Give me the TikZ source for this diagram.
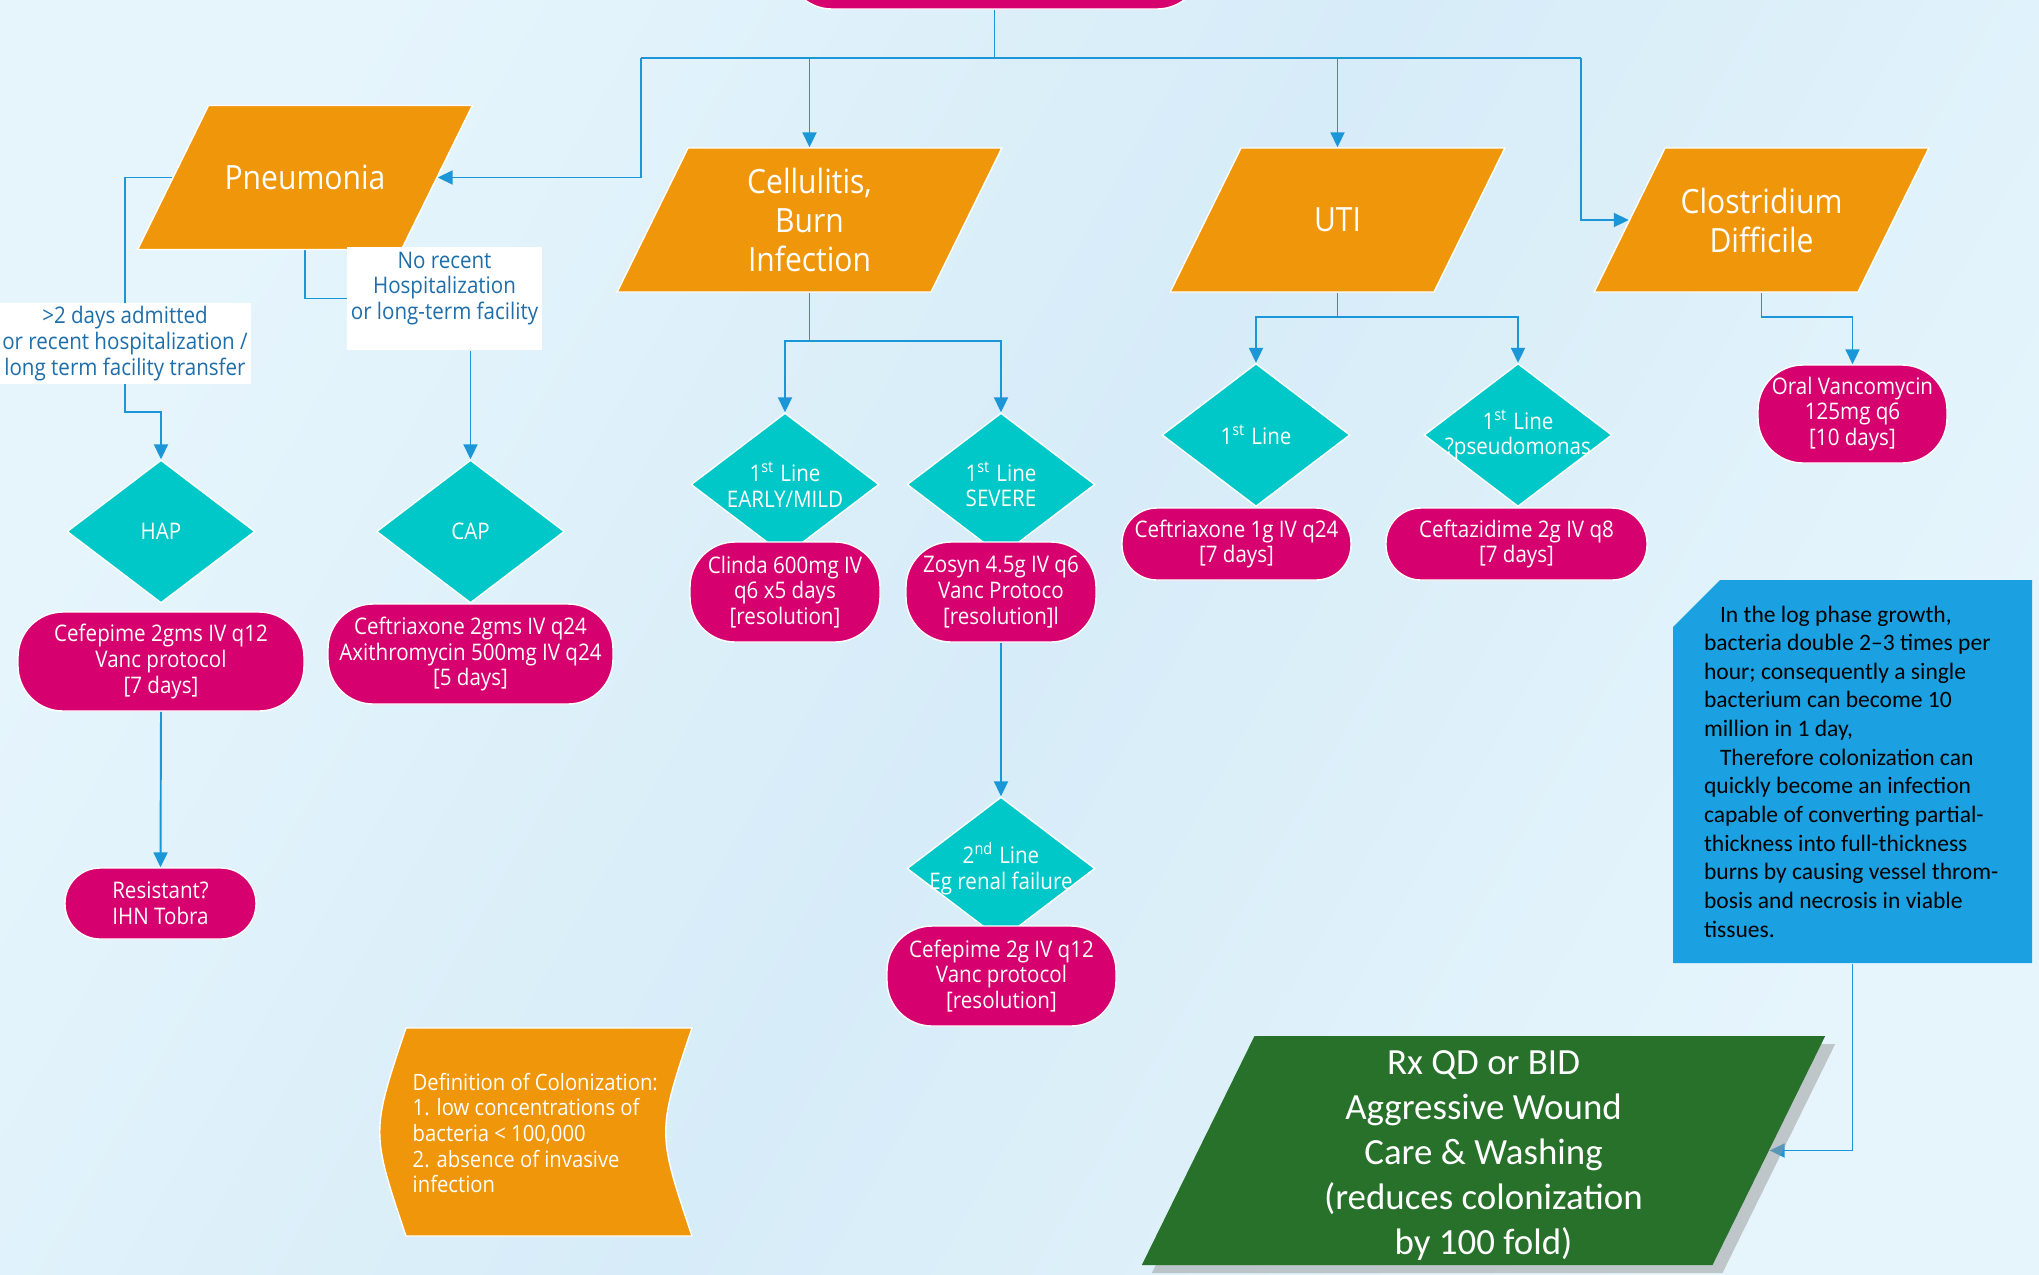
\documentclass[tikz,border=0pt]{standalone}
\usepackage{fontspec}
\setmainfont{Open Sans}[FakeStretch=0.9]
\newfontfamily\calfont{Carlito}
\usetikzlibrary{shapes.geometric,shapes.misc,arrows.meta,shadows,backgrounds}
\pgfdeclarelayer{bg}
\pgfsetlayers{bg,background,main}
\definecolor{bgA}{RGB}{230,245,252}
\definecolor{bgB}{RGB}{214,236,248}
\definecolor{orng}{RGB}{239,150,10}
\definecolor{mgnt}{RGB}{214,0,111}
\definecolor{cyanbox}{RGB}{0,200,200}
\definecolor{bluebox}{RGB}{27,161,226}
\definecolor{grn}{RGB}{39,113,42}
\definecolor{connclr}{RGB}{27,150,215}
\definecolor{lbltxt}{RGB}{30,110,170}
\newcommand{\rxfont}{\fontsize{6.5}{7.3}\selectfont}
\begin{document}
\begin{tikzpicture}[x=0.1mm,y=-0.1mm,
    para/.style={trapezium, trapezium left angle=63.8, trapezium right angle=116.2,
        fill=orng, draw=white, line width=0.4pt, inner ysep=7.2mm, inner xsep=9.65mm},
    ptext/.style={text=white, align=center, inner sep=0pt, font=\fontsize{9.5}{11.1}\selectfont},
    rx/.style={rectangle, rounded corners=4.5mm, fill=mgnt, draw=white, line width=0.4pt,
        text=white, align=center, inner sep=0pt, font=\rxfont},
    decide/.style={diamond, fill=cyanbox, draw=white, line width=0.4pt,
        minimum width=18.8mm, minimum height=14.3mm, inner sep=0pt},
    dtext/.style={text=white, align=center, inner sep=0pt, font=\rxfont},
    lbl/.style={rectangle, fill=white, text=lbltxt, align=center, inner sep=1pt, font=\rxfont},
    conn/.style={draw=connclr, line width=0.55pt},
    arr/.style={conn, -{Triangle[length=1.5mm, width=1.4mm]}}
]
    \useasboundingbox (0,0) rectangle (2039,1274);
    \clip (0,0) rectangle (2039,1274);
    \begin{pgfonlayer}{bg}
        \shade[left color=bgA, right color=bgA, middle color=bgB, shading angle=60] (0,0) rectangle (2039,1274);
    \end{pgfonlayer}

    \node[rx, minimum width=41.5mm, minimum height=7.8mm] (start) at (994.5,-30) {};

    \node[para, label={[ptext]center:Pneumonia}] (pneu) at (305,177.5) {};
    \node[para, inner xsep=12.15mm, label={[ptext]center:{Cellulitis,\\Burn\\Infection}}] (cell) at (809.5,220) {};
    \node[para, label={[ptext]center:UTI}] (uti) at (1337.5,220) {};
    \node[para, label={[ptext]center:{Clostridium\\Difficile}}] (clos) at (1761.5,220) {};

    \node[lbl, minimum width=24.8mm, minimum height=7.7mm] (lblhosp) at (125,343.5)
        {>2 days admitted\\or recent hospitalization /\\long term facility transfer};
    \node[lbl, minimum width=19.3mm, minimum height=10.3mm] (lblno) at (444.5,298.5)
        {No recent\\Hospitalization\\or long-term facility\\\mbox{}};

    \node[decide, label={[dtext]center:HAP}] (hap) at (161,531.5) {};
    \node[decide, label={[dtext]center:CAP}] (cap) at (470.5,531.5) {};
    \node[decide, label={[dtext]center:{1\textsuperscript{st} Line\\EARLY/MILD}}] (early) at (785,484.5) {};
    \node[decide, label={[dtext]center:{1\textsuperscript{st} Line\\SEVERE}}] (severe) at (1001,484.5) {};
    \node[decide, label={[dtext]center:{2\textsuperscript{nd} Line\\Eg renal failure}}] (second) at (1001,868.5) {};
    \node[decide, label={[dtext]center:{1\textsuperscript{st} Line}}] (uti1) at (1256,435) {};
    \node[decide, label={[dtext]center:{1\textsuperscript{st} Line\\?pseudomonas}}] (uti2) at (1518,435) {};

    \node[rx, minimum width=28.6mm, minimum height=9.9mm] (haprx) at (161,661.5)
        {Cefepime 2gms IV q12\\Vanc protocol\\{[7 days]}};
    \node[rx, minimum width=28.5mm, minimum height=10mm] (caprx) at (470.5,654)
        {Ceftriaxone 2gms IV q24\\Axithromycin 500mg IV q24\\{[5 days]}};
    \node[rx, minimum width=19.1mm, minimum height=7.1mm, rounded corners=3.5mm] (resist) at (160.5,903.5)
        {Resistant?\\IHN Tobra};
    \node[rx, minimum width=19mm, minimum height=10mm] (clinda) at (785,592)
        {Clinda 600mg IV\\q6 x5 days\\{[resolution]}};
    \node[rx, minimum width=19mm, minimum height=10mm] (zosyn) at (1001,592)
        {Zosyn 4.5g IV q6\\Vanc Protoco\\{[resolution]l}};
    \node[rx, minimum width=22.9mm, minimum height=10mm] (cefe2) at (1001.5,976)
        {Cefepime 2g IV q12\\Vanc protocol\\{[resolution]}};
    \node[rx, minimum width=22.9mm, minimum height=7.2mm, rounded corners=3.5mm] (ceftri) at (1236.5,544)
        {Ceftriaxone 1g IV q24\\{[7 days]}};
    \node[rx, minimum width=26.1mm, minimum height=7.2mm, rounded corners=3.5mm] (ceftaz) at (1516.5,544)
        {Ceftazidime 2g IV q8\\{[7 days]}};
    \node[rx, minimum width=18.9mm, minimum height=9.8mm] (oralv) at (1852.5,414)
        {Oral Vancomycin\\125mg q6\\{[10 days]}};

    \node[chamfered rectangle, chamfered rectangle corners=north west, chamfered rectangle xsep=2.35mm,
        chamfered rectangle ysep=2.35mm, fill=bluebox, inner xsep=15.6mm, inner ysep=16.8mm] (note) at (1852.5,771.5) {};
    \node[anchor=west, align=left, inner sep=0pt, font=\calfont\fontsize{6.7}{8.15}\selectfont] (notetxt)
        at ([xshift=3.1mm]note.west)
        {\hspace*{1.6mm}In the log phase growth,\\bacteria double 2–3 times per\\hour; consequently a single\\bacterium can become 10\\million in 1 day,\\\hspace*{1.6mm}Therefore colonization can\\quickly become an infection\\capable of converting partial-\\thickness into full-thickness\\burns by causing vessel throm-\\bosis and necrosis in viable\\tissues.};

    \node[para, fill=grn, draw=none, inner xsep=22.9mm, inner ysep=11.45mm,
        drop shadow={shadow xshift=1mm, shadow yshift=-0.8mm, fill=black!40, opacity=0.5},
        label={[ptext, yshift=-0.5mm, font=\calfont\fontsize{10.5}{12.8}\selectfont]center:{Rx QD or BID\\Aggressive Wound\\Care \& Washing\\(reduces colonization\\by 100 fold)}}] (wash) at (1483.5,1150.5) {};

    \filldraw[fill=orng, draw=white, line width=0.4pt] (406,1028) -- (692,1028) .. controls (657,1132) .. (692,1236)
        -- (406,1236) .. controls (371,1132) .. (406,1028) -- cycle;
    \node[anchor=west, align=left, text=white, inner sep=0pt, font=\fontsize{6.4}{7.3}\selectfont] (defn) at (412,1133)
        {Definition of Colonization:\\1. low concentrations of\\bacteria < 100,000\\2. absence of invasive\\infection};

    \coordinate (bus) at (994.5,58);
    \coordinate (busL) at (641,58);
    \coordinate (busR) at (1581,58);
    \coordinate (hbend) at (125,412);
    \begin{pgfonlayer}{background}
        \draw[conn] (start.south) -- (bus);
        \draw[conn] (busL) -- (busR);
        \draw[arr] (busL) |- (pneu.east);
        \draw[arr] (cell.north |- bus) -- (cell.north);
        \draw[arr] (uti.north |- bus) -- (uti.north);
        \draw[arr] (busR) |- (clos.west);
        \draw[arr] (pneu.west) -| (hbend) -| (hap.north);
        \draw[conn] (pneu.south) |- (lblno.west);
        \draw[arr] (lblno.south -| cap.north) -- (cap.north);
        \draw[arr] (haprx.south) -- (resist.north);
        \draw[arr] (cell.south) -- ++(0,48) -| (early.north);
        \draw[arr] (cell.south) -- ++(0,48) -| (severe.north);
        \draw[arr] (zosyn.south) -- (second.north);
        \draw[arr] (uti.south) -- ++(0,24) -| (uti1.north);
        \draw[arr] (uti.south) -- ++(0,24) -| (uti2.north);
        \draw[arr] (clos.south) -- ++(0,24) -| (oralv.north);
        \draw[arr] (note.south) |- (wash.east);
    \end{pgfonlayer}
\end{tikzpicture}
\end{document}
